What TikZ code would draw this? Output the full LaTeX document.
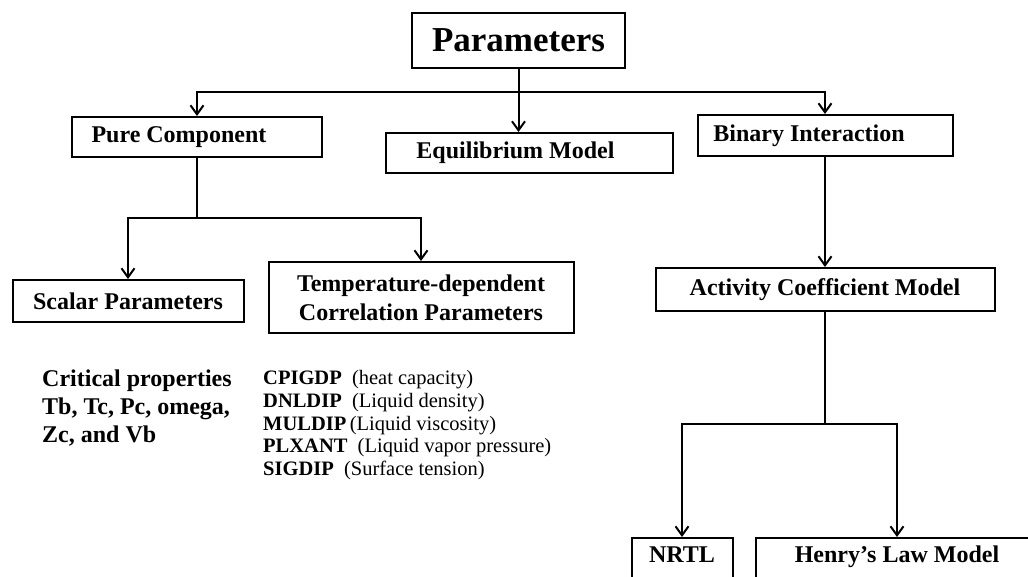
\documentclass[tikz,border=0pt]{standalone}
\usepackage{fontspec}
\setmainfont{Liberation Serif}
\usetikzlibrary{arrows.meta}
\tikzset{
  box/.style={draw, line width=2pt, inner sep=0pt, font=\fontsize{24}{28}\selectfont\bfseries},
  link/.style={line width=2pt},
  arr/.style={line width=2pt, -{Straight Barb[length=9pt,width=13pt,line width=2pt]}},
  lbl/.style={inner sep=0pt, anchor=base, font=\fontsize{24}{28}\selectfont\bfseries}
}
\begin{document}
\begin{tikzpicture}[x=1pt,y=-1pt]
\clip (0,0) rectangle (1028,576);
\fill[white] (0,0) rectangle (1028,576);
% boxes
\node[box, minimum width=213, minimum height=55, font=\fontsize{35}{40}\selectfont\bfseries] (param) at (518.5,40.5) {Parameters};
\node[box, minimum width=250, minimum height=40] (pure) at (197,137) {Pure Component\kern36pt\relax};
\node[box, minimum width=287, minimum height=40] (equ) at (529.5,153) {Equilibrium Model\kern28pt\relax};
\node[box, minimum width=255, minimum height=41] (bin) at (825,135.5) {Binary Interaction\kern32pt\relax};
\node[box, minimum width=231, minimum height=42] (scalar) at (128,301) {Scalar Parameters};
\node[box, minimum width=305, minimum height=71, align=center, font=\fontsize{24}{29}\selectfont\bfseries] (temp) at (421,297.5) {Temperature-dependent\\Correlation Parameters};
\node[box, minimum width=339, minimum height=43] (act) at (825,289.5) {Activity Coefficient Model};
\node[box, minimum width=101, minimum height=60, anchor=north] (nrtl) at (682,537) {};
\node[lbl] (nrtlt) at ([yshift=-25pt]nrtl.north) {NRTL};
\node[box, minimum width=283, minimum height=60, anchor=north] (henry) at (897,537) {};
\node[lbl] (henryt) at ([yshift=-25pt]henry.north) {Henry’s Law Model};
% text blocks
\node[inner sep=0pt, anchor=north west, align=left, font=\fontsize{24}{28}\selectfont\bfseries] (crit) at (42,370) {Critical properties\\Tb, Tc, Pc, omega,\\Zc, and Vb};
\node[inner sep=0pt, anchor=north west, align=left, font=\fontsize{20.5}{22.8}\selectfont] (list) at (263,370) {\textbf{CPIGDP}\ \ (heat capacity)\\\textbf{DNLDIP}\ \ (Liquid density)\\\textbf{MULDIP}\,(Liquid viscosity)\\\textbf{PLXANT}\ \ (Liquid vapor pressure)\\\textbf{SIGDIP}\ \ (Surface tension)};
% connectors
\coordinate (j1) at (518.5,92);
\coordinate (j2) at (197,218);
\coordinate (j3) at (825,424);
\draw[link] (param.south) -- (j1);
\draw[arr] (j1) -- (j1 |- equ.north);
\draw[arr] (j1) -| (pure.north);
\draw[arr] (j1) -| (bin.north);
\draw[link] (pure.south) -- (j2);
\draw[arr] (j2) -| (scalar.north);
\draw[arr] (j2) -| (temp.north);
\draw[arr] (bin.south) -- (act.north);
\draw[link] (act.south) -- (j3);
\draw[arr] (j3) -| (nrtl.north);
\draw[arr] (j3) -| (henry.north);
\end{tikzpicture}
\end{document}
